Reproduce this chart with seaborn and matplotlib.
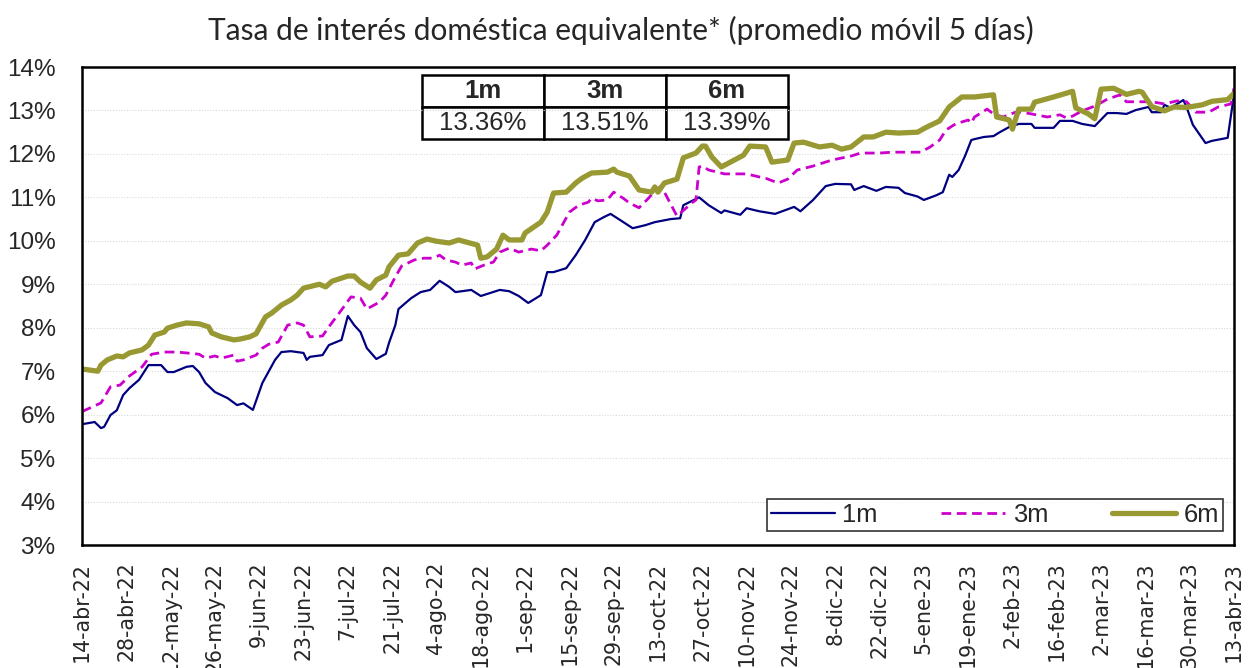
import matplotlib
matplotlib.use("Agg")
import matplotlib.pyplot as plt
import seaborn as sns
import pandas as pd
import numpy as np

# ---- data: days since 14-abr-2022 and rate (%) for each tenor ----
inicio = pd.Timestamp("2022-04-14")

dias_1m = [0, 4, 6, 7, 9, 11, 13, 15, 18, 21, 25, 27, 29, 33, 35, 37, 39, 42, 46, 49,
           51, 54, 57, 61, 63, 66, 70, 71, 72, 76, 78, 82, 84, 86, 88, 90, 93, 96, 97, 99,
           100, 104, 107, 110, 113, 116, 118, 123, 126, 129, 132, 135, 138, 141, 145, 147,
           149, 153, 156, 159, 162, 165, 167, 170, 174, 178, 181, 186, 189, 190, 195, 198,
           202, 203, 208, 210, 214, 219, 222, 225, 227, 231, 235, 238, 243, 244, 247, 251,
           254, 258, 260, 264, 266, 270, 272, 274, 275, 277, 279, 281, 282, 285, 288, 290,
           293, 296, 300, 301, 307, 309, 313, 316, 320, 324, 327, 330, 333, 337, 338, 341,
           342, 344, 348, 349, 351, 355, 357, 362, 364]
tasa_1m = [5.78, 5.83, 5.69, 5.72, 5.99, 6.10, 6.45, 6.61, 6.80, 7.14, 7.14, 6.98, 6.98,
           7.10, 7.12, 6.98, 6.73, 6.52, 6.38, 6.22, 6.26, 6.11, 6.73, 7.26, 7.44, 7.46,
           7.42, 7.26, 7.33, 7.37, 7.60, 7.72, 8.27, 8.06, 7.90, 7.53, 7.28, 7.40, 7.65,
           8.06, 8.43, 8.68, 8.82, 8.87, 9.08, 8.94, 8.82, 8.87, 8.73, 8.80, 8.87, 8.84,
           8.73, 8.57, 8.75, 9.28, 9.28, 9.37, 9.67, 10.02, 10.43, 10.55, 10.62, 10.48,
           10.29, 10.36, 10.43, 10.50, 10.52, 10.82, 11.00, 10.82, 10.64, 10.70, 10.60,
           10.75, 10.68, 10.62, 10.70, 10.78, 10.68, 10.94, 11.26, 11.31, 11.30, 11.17,
           11.26, 11.15, 11.24, 11.22, 11.10, 11.02, 10.94, 11.05, 11.12, 11.52, 11.47,
           11.63, 11.95, 12.32, 12.34, 12.39, 12.41, 12.50, 12.62, 12.69, 12.69, 12.60,
           12.60, 12.76, 12.76, 12.69, 12.64, 12.94, 12.94, 12.92, 13.01, 13.08, 12.96,
           12.96, 13.13, 13.06, 13.24, 13.08, 12.67, 12.25, 12.30, 12.37, 13.36]

dias_3m = [0, 3, 6, 9, 12, 15, 19, 22, 26, 30, 33, 37, 39, 42, 44, 48, 49, 51, 55, 57,
           59, 62, 65, 68, 70, 72, 76, 78, 82, 85, 88, 90, 94, 96, 99, 101, 105, 108, 111,
           113, 115, 118, 120, 123, 124, 128, 130, 132, 135, 138, 142, 145, 147, 150, 154,
           157, 160, 161, 163, 166, 168, 171, 173, 176, 179, 181, 183, 188, 193, 194, 195,
           196, 198, 203, 210, 214, 216, 220, 223, 226, 231, 237, 243, 246, 252, 256, 265,
           268, 271, 273, 276, 280, 281, 282, 286, 288, 291, 295, 297, 300, 305, 309, 311,
           313, 316, 320, 324, 328, 330, 335, 338, 342, 346, 349, 352, 356, 359, 363, 364]
tasa_3m = [6.07, 6.17, 6.27, 6.64, 6.68, 6.89, 7.10, 7.39, 7.44, 7.44, 7.42, 7.39, 7.30,
           7.35, 7.30, 7.37, 7.23, 7.26, 7.37, 7.53, 7.62, 7.67, 8.06, 8.11, 8.06, 7.79,
           7.81, 8.02, 8.41, 8.71, 8.68, 8.43, 8.59, 8.75, 9.17, 9.42, 9.56, 9.60, 9.60,
           9.67, 9.56, 9.51, 9.44, 9.49, 9.35, 9.47, 9.51, 9.74, 9.83, 9.74, 9.81, 9.77,
           9.90, 10.13, 10.66, 10.82, 10.89, 10.98, 10.92, 10.94, 11.12, 10.98, 10.87,
           10.76, 10.98, 11.15, 11.26, 10.57, 10.89, 10.94, 11.70, 11.72, 11.63, 11.54,
           11.54, 11.47, 11.44, 11.33, 11.42, 11.63, 11.72, 11.86, 11.95, 12.02, 12.02,
           12.04, 12.04, 12.16, 12.32, 12.55, 12.69, 12.78, 12.71, 12.85, 13.03, 12.92,
           12.85, 12.96, 12.96, 12.92, 12.85, 12.90, 12.83, 12.87, 12.99, 13.10, 13.26,
           13.36, 13.20, 13.20, 13.20, 13.15, 13.22, 13.20, 12.96, 12.96, 13.08, 13.15,
           13.51]

dias_6m = [0, 5, 6, 8, 11, 13, 15, 19, 21, 23, 26, 27, 30, 33, 37, 40, 41, 44, 48, 50,
           53, 55, 58, 60, 63, 66, 68, 70, 75, 77, 79, 84, 86, 88, 91, 93, 96, 97, 100,
           103, 106, 109, 112, 116, 119, 125, 126, 128, 131, 133, 135, 139, 140, 145, 147,
           149, 153, 156, 158, 161, 166, 168, 169, 173, 176, 180, 181, 182, 184, 188, 190,
           194, 196, 197, 199, 202, 209, 211, 216, 218, 223, 225, 228, 233, 237, 240, 243,
           247, 250, 254, 258, 264, 267, 271, 274, 278, 282, 288, 289, 293, 294, 296, 300,
           301, 307, 313, 314, 318, 320, 322, 326, 330, 334, 335, 338, 342, 345, 349, 354,
           357, 362, 364]
tasa_6m = [7.05, 7.00, 7.14, 7.26, 7.35, 7.33, 7.42, 7.49, 7.60, 7.83, 7.90, 7.99, 8.06,
           8.11, 8.09, 8.02, 7.88, 7.79, 7.72, 7.74, 7.79, 7.86, 8.25, 8.34, 8.52, 8.64,
           8.75, 8.91, 9.00, 8.94, 9.07, 9.19, 9.19, 9.05, 8.91, 9.10, 9.21, 9.40, 9.67,
           9.70, 9.95, 10.04, 9.99, 9.95, 10.02, 9.90, 9.60, 9.63, 9.81, 10.13, 10.02,
           10.02, 10.18, 10.43, 10.66, 11.10, 11.12, 11.33, 11.44, 11.56, 11.58, 11.65,
           11.58, 11.49, 11.17, 11.12, 11.24, 11.12, 11.33, 11.42, 11.91, 12.02, 12.18,
           12.18, 11.93, 11.70, 11.97, 12.18, 12.16, 11.81, 11.86, 12.25, 12.27, 12.16,
           12.20, 12.11, 12.16, 12.39, 12.39, 12.50, 12.48, 12.50, 12.62, 12.76, 13.08,
           13.31, 13.31, 13.36, 12.85, 12.78, 12.57, 13.03, 13.03, 13.19, 13.31, 13.44,
           13.06, 12.92, 12.81, 13.49, 13.51, 13.37, 13.44, 13.42, 13.09, 12.99, 13.08,
           13.07, 13.13, 13.21, 13.25, 13.39]

series = ["1m", "3m", "6m"]
colores = {"1m": "#000080", "3m": "#CC00CC", "6m": "#999933"}
grosores = {"1m": 1.6, "3m": 2.0, "6m": 3.8}
estilos = {"1m": "-", "3m": (0, (3.5, 2.0)), "6m": "-"}

etiquetas_x = ["14-abr-22", "28-abr-22", "12-may-22", "26-may-22", "9-jun-22", "23-jun-22",
               "7-jul-22", "21-jul-22", "4-ago-22", "18-ago-22", "1-sep-22", "15-sep-22",
               "29-sep-22", "13-oct-22", "27-oct-22", "10-nov-22", "24-nov-22", "8-dic-22",
               "22-dic-22", "5-ene-23", "19-ene-23", "2-feb-23", "16-feb-23", "2-mar-23",
               "16-mar-23", "30-mar-23", "13-abr-23"]

titulo = "Tasa de interés doméstica equivalente* (promedio móvil 5 días)"

# ---- long-format frame ----
frames = []
for nombre, dias, tasa in [("1m", dias_1m, tasa_1m), ("3m", dias_3m, tasa_3m), ("6m", dias_6m, tasa_6m)]:
    frames.append(pd.DataFrame({
        "fecha": inicio + pd.to_timedelta(dias, unit="D"),
        "tasa": np.array(tasa) / 100.0,
        "plazo": nombre,
    }))
df = pd.concat(frames, ignore_index=True)

sns.set_theme(style="white")
plt.rcParams["font.family"] = ["Liberation Sans", "DejaVu Sans"]

fig = plt.figure(figsize=(12.5, 6.68), dpi=100)
ax = fig.add_axes([82 / 1250, 1 - 545 / 668, (1234 - 82) / 1250, (545 - 67) / 668])

for nombre in series:
    sub = df[df["plazo"] == nombre]
    sns.lineplot(data=sub, x="fecha", y="tasa", ax=ax, color=colores[nombre],
                 linewidth=grosores[nombre], linestyle=estilos[nombre], label=nombre,
                 estimator=None, sort=False)

# axes ranges and ticks
yticks = np.arange(0.03, 0.1401, 0.01)
ax.set_ylim(0.03, 0.14)
ax.set_yticks(yticks)
ax.set_yticklabels([f"{int(round(v * 100))}%" for v in yticks], fontsize=17.5)
ticks_x = [inicio + pd.Timedelta(days=14 * i) for i in range(len(etiquetas_x))]
ax.set_xlim(ticks_x[0], ticks_x[-1])
ax.set_xticks(ticks_x)
ax.set_xticklabels(etiquetas_x, rotation=90, fontsize=14.8, fontfamily="DejaVu Sans")
ax.set_xlabel("")
ax.set_ylabel("")
ax.tick_params(axis="both", direction="out", length=7, width=1, color="black")
ax.tick_params(axis="y", pad=12)
ax.tick_params(axis="x", pad=5)

ax.yaxis.grid(True, color="#d9d9d9", linestyle=(0, (1, 1.5)), linewidth=0.8)
ax.xaxis.grid(False)
for s in ax.spines.values():
    s.set_visible(True)
    s.set_color("black")
    s.set_linewidth(1.8)

# legend
leg = ax.legend(loc="lower right", ncol=3, fontsize=18.4, frameon=True, fancybox=False,
                edgecolor="black", handlelength=2.5, handletextpad=0.3, columnspacing=2.5,
                borderpad=0.15, borderaxespad=0, bbox_to_anchor=(0.9905, 0.0293))
leg.get_frame().set_linewidth(1.2)

# table with the latest values
ultimos = [tasa_1m[-1], tasa_3m[-1], tasa_6m[-1]]
tabla = ax.table(cellText=[[f"{v:.2f}%" for v in ultimos]], colLabels=series,
                 cellLoc="center", bbox=[(422 - 82) / 1152, (545 - 139) / 478,
                                         (788 - 422) / 1152, (139 - 75) / 478])
tabla.auto_set_font_size(False)
for (r, c), cell in tabla.get_celld().items():
    cell.set_edgecolor("black")
    cell.set_linewidth(1.8)
    cell.set_facecolor("white")
    cell.get_text().set_fontsize(18.5)
    if r == 0:
        cell.get_text().set_fontweight("bold")

fig.text(0.497, 1 - 30 / 668, titulo, ha="center", va="center", fontsize=21.5,
         fontfamily="Lato")

fig.savefig("out.png", dpi=100, facecolor="white")
